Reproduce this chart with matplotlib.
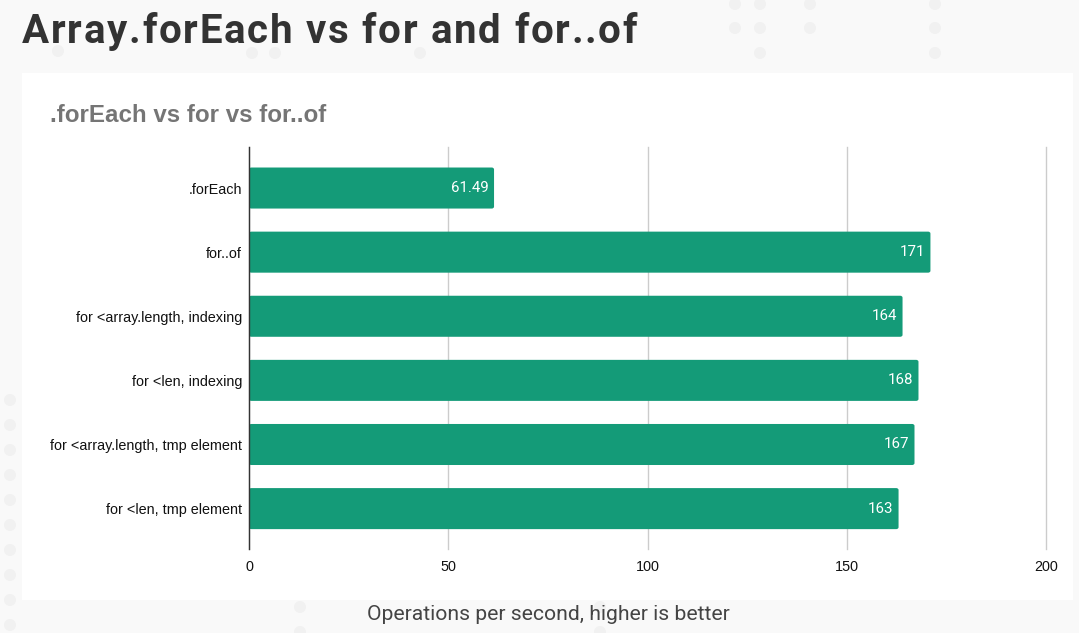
import matplotlib.pyplot as plt
from matplotlib.patches import Rectangle, Ellipse, FancyBboxPatch

# data
categories = ['.forEach', 'for..of', 'for <array.length, indexing', 'for <len, indexing',
              'for <array.length, tmp element', 'for <len, tmp element']
ops_per_sec = [61.49, 171, 164, 168, 167, 163]
value_labels = ['61.49', '171', '164', '168', '167', '163']
x_ticks = [0, 50, 100, 150, 200]

BAR_COLOR = '#149b78'
W, H = 1079, 633

fig = plt.figure(figsize=(W / 100, H / 100), dpi=100)
fig.patch.set_facecolor('#f9f9f9')

# faint decorative dots in the page background
dot_spots = [(735, 4), (760, 4), (810, 4), (935, 4), (735, 28), (760, 28), (810, 28), (935, 28),
             (760, 53), (935, 53), (58, 51), (252, 53), (275, 53), (420, 53)]
dot_spots += [(10, 400 + 25 * k) for k in range(10)]
dot_spots += [(300, 607), (300, 632), (600, 607), (600, 632)]
for (px, py) in dot_spots:
    fig.patches.append(Ellipse((px / W, 1 - py / H), 12 / W, 12 / H, transform=fig.transFigure,
                               facecolor='#f1f1f1', edgecolor='none', zorder=0))

# white card
fig.patches.append(Rectangle((22 / W, 1 - 600 / H), (1073 - 22) / W, (600 - 73) / H,
                             transform=fig.transFigure, facecolor='white', edgecolor='none', zorder=1))


def spaced_text(x_px, y_px, s, spacing_px, **kw):
    # matplotlib has no letter-spacing, so lay the title out one glyph at a time
    renderer = fig.canvas.get_renderer()
    probe = fig.text(0, 0, '', **kw)
    for i, ch in enumerate(s):
        probe.set_text(s[:i] + '|')
        w_all = probe.get_window_extent(renderer).width
        probe.set_text('|')
        w_bar = probe.get_window_extent(renderer).width
        offset = (w_all - w_bar) if i else 0
        fig.text((x_px + offset + i * spacing_px) / W, 1 - y_px / H, ch, ha='left', va='baseline', **kw)
    probe.remove()


spaced_text(22, 43, 'Array.forEach vs for and for..of', 1.7, family='Roboto',
            fontweight='bold', fontsize=29, color='#333333')
fig.text(50 / W, 1 - 122 / H, '.forEach vs for vs for..of', family='Liberation Sans',
         fontweight='bold', fontsize=17.4, color='#757575', ha='left', va='baseline')
fig.text(548 / W, 1 - 620 / H, 'Operations per second, higher is better', family='Roboto',
         fontsize=15.2, color='#444444', ha='center', va='baseline')

ax = fig.add_axes([249 / W, 1 - 549 / H, (1046 - 249) / W, (549 - 147) / H])
ax.set_facecolor('none')
ax.set_zorder(2)

ypos = list(range(len(categories)))
bar_h = 0.64
for y, v in zip(ypos, ops_per_sec):
    ax.add_patch(FancyBboxPatch((0, y - bar_h / 2), v, bar_h,
                                boxstyle='round,pad=0,rounding_size=0.6',
                                mutation_aspect=0.05, facecolor=BAR_COLOR,
                                edgecolor='none', zorder=3))
for y, v, lab in zip(ypos, ops_per_sec, value_labels):
    ax.text(v - 1.3, y, lab, color='white', fontsize=10.8, family='Roboto',
            ha='right', va='center', zorder=4)

ax.set_xlim(0, 200)
ax.set_ylim(len(categories) - 1 + 0.63, -0.64)
ax.set_xticks(x_ticks)
ax.set_xticklabels([str(t) for t in x_ticks], family='Liberation Sans', fontsize=10.4, color='#111111')
ax.set_yticks(ypos)
ax.set_yticklabels(categories, family='Liberation Sans', fontsize=10.4, color='#111111')
ax.tick_params(length=0, pad=5)
ax.tick_params(axis='x', pad=8)

ax.grid(axis='x', color='#cccccc', linewidth=1, zorder=0)
for gl in ax.get_xgridlines():
    gl.set_clip_on(False)
ax.set_axisbelow(True)
for side in ['top', 'right', 'bottom']:
    ax.spines[side].set_visible(False)
ax.spines['left'].set_color('#333333')
ax.spines['left'].set_linewidth(1)
ax.spines['left'].set_zorder(5)

fig.savefig('out.png', dpi=100, facecolor=fig.get_facecolor())
